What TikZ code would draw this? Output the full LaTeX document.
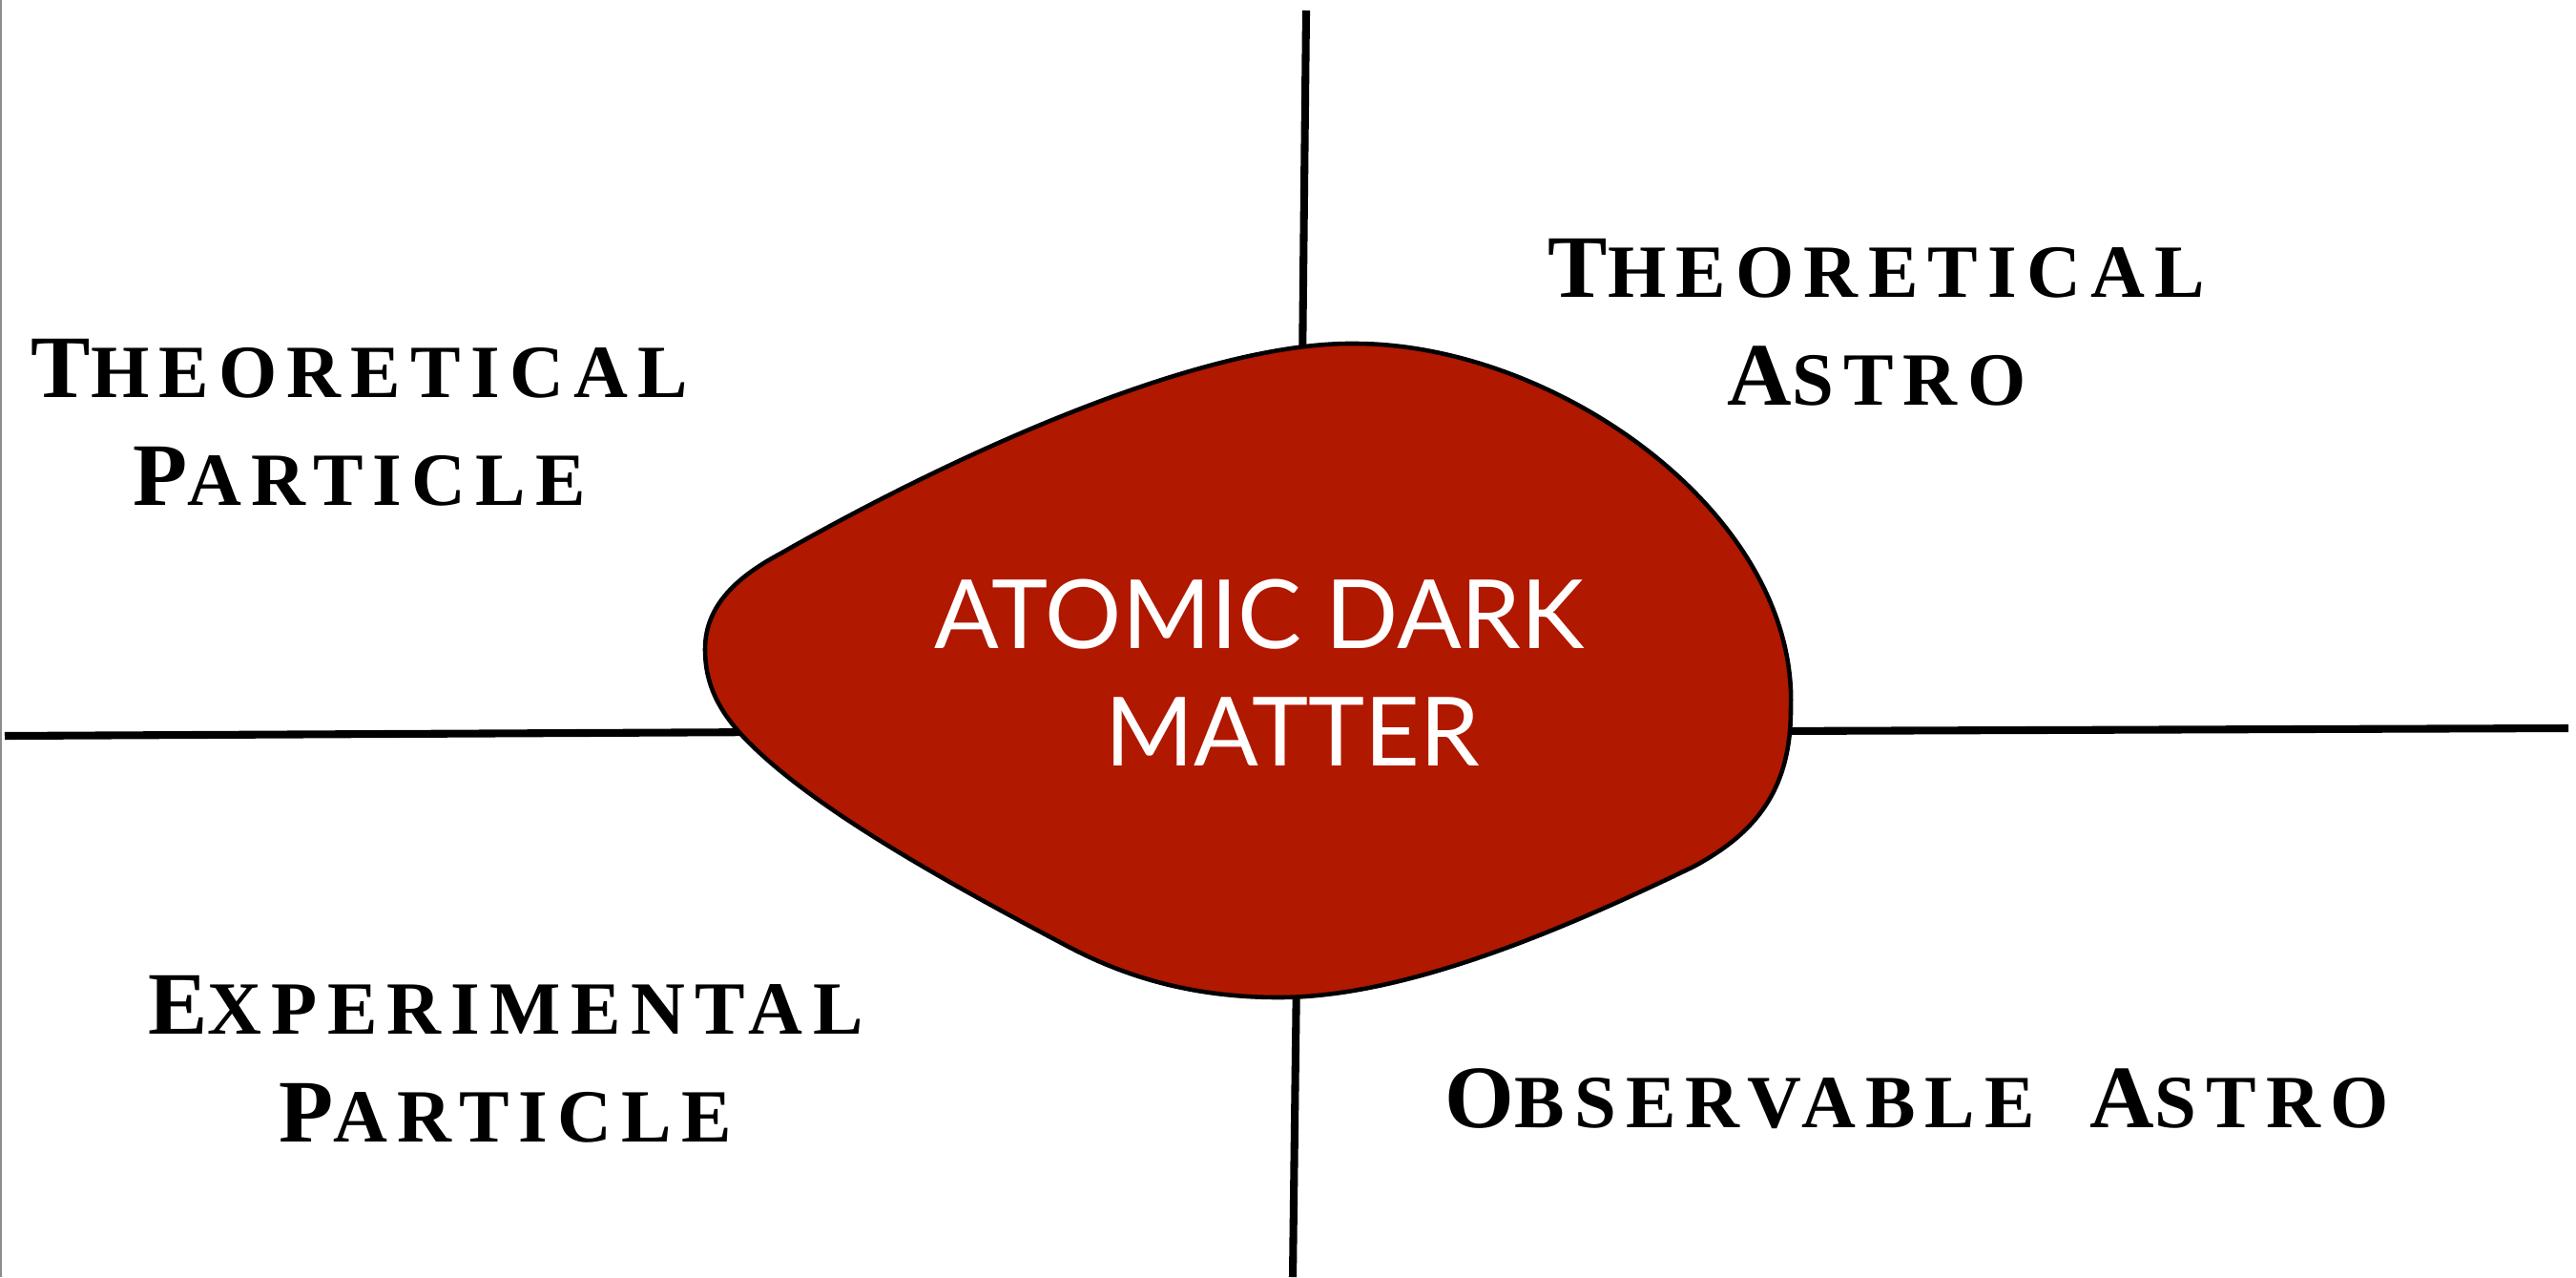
\documentclass[tikz,border=0pt]{standalone}
\usepackage{fontspec}
\usepackage{tikz}
\usetikzlibrary{positioning}
\newfontfamily\fieldfont[LetterSpace=13]{Liberation Serif}
\newfontfamily\blobfont{Lato}
\newcommand{\initial}[1]{{\fontsize{26.6pt}{26.6pt}\selectfont #1}}
\definecolor{blobred}{RGB}{176,24,0}

\begin{document}
\begin{tikzpicture}[
    field/.style={font=\fieldfont\bfseries\fontsize{22.4pt}{32.1pt}\selectfont, align=center, inner sep=0pt},
    core/.style={font=\blobfont\fontsize{28.5pt}{35pt}\selectfont, text=white, align=center, inner sep=0pt},
    axis/.style={line width=2.3pt, draw=black},
    outline/.style={line width=1.3pt, draw=black, fill=blobred}
]
\useasboundingbox (0,0) rectangle (27,13.38);
\draw[black!45, line width=0.6pt] (0.01,0) -- (0.01,13.38);

\coordinate (axis-n) at (13.69,13.27);
\coordinate (axis-s) at (13.55,0);
\coordinate (axis-w) at (0.05,5.67);
\coordinate (axis-e) at (26.92,5.75);
\coordinate (blob-n) at (13.65,9.5);
\coordinate (blob-s) at (13.59,3.2);
\coordinate (blob-w) at (8.1,5.71);
\coordinate (blob-e) at (18.5,5.72);

\draw[axis] (axis-n) -- (blob-n);
\draw[axis] (blob-s) -- (axis-s);
\draw[axis] (axis-w) -- (blob-w);
\draw[axis] (blob-e) -- (axis-e);

\draw[outline] (7.39,6.58)
  .. controls (7.39,7.05) and (7.75,7.35) .. (8.18,7.58)
  .. controls (10.0,8.62) and (12.6,9.80) .. (14.20,9.78)
  .. controls (16.3,9.78) and (18.85,8.0) .. (18.77,5.95)
  .. controls (18.77,5.1) and (18.4,4.65) .. (17.75,4.30)
  .. controls (16.3,3.6) and (14.7,2.93) .. (13.40,2.93)
  .. controls (12.4,2.93) and (11.7,3.2) .. (11.22,3.45)
  .. controls (9.7,4.25) and (8.5,4.95) .. (7.85,5.60)
  .. controls (7.5,5.95) and (7.39,6.25) .. cycle;

\node[core] (adm) at (13.55,6.335) {ATOMIC DARK\hspace*{20pt}\\MATTER};

\node[field] (theopart) at (3.77,8.95) {\initial{T}HEORETICAL\\\initial{P}ARTICLE};
\node[field] (theoastro) at (19.67,10.0) {\initial{T}HEORETICAL\\\initial{A}STRO};
\node[field] (exppart) at (5.30,2.28) {\initial{E}XPERIMENTAL\\\initial{P}ARTICLE};
\node[field] (obsastro) at (20.09,1.87) {\initial{O}BSERVABLE\hspace{0.35em} \initial{A}STRO};
\end{tikzpicture}
\end{document}
